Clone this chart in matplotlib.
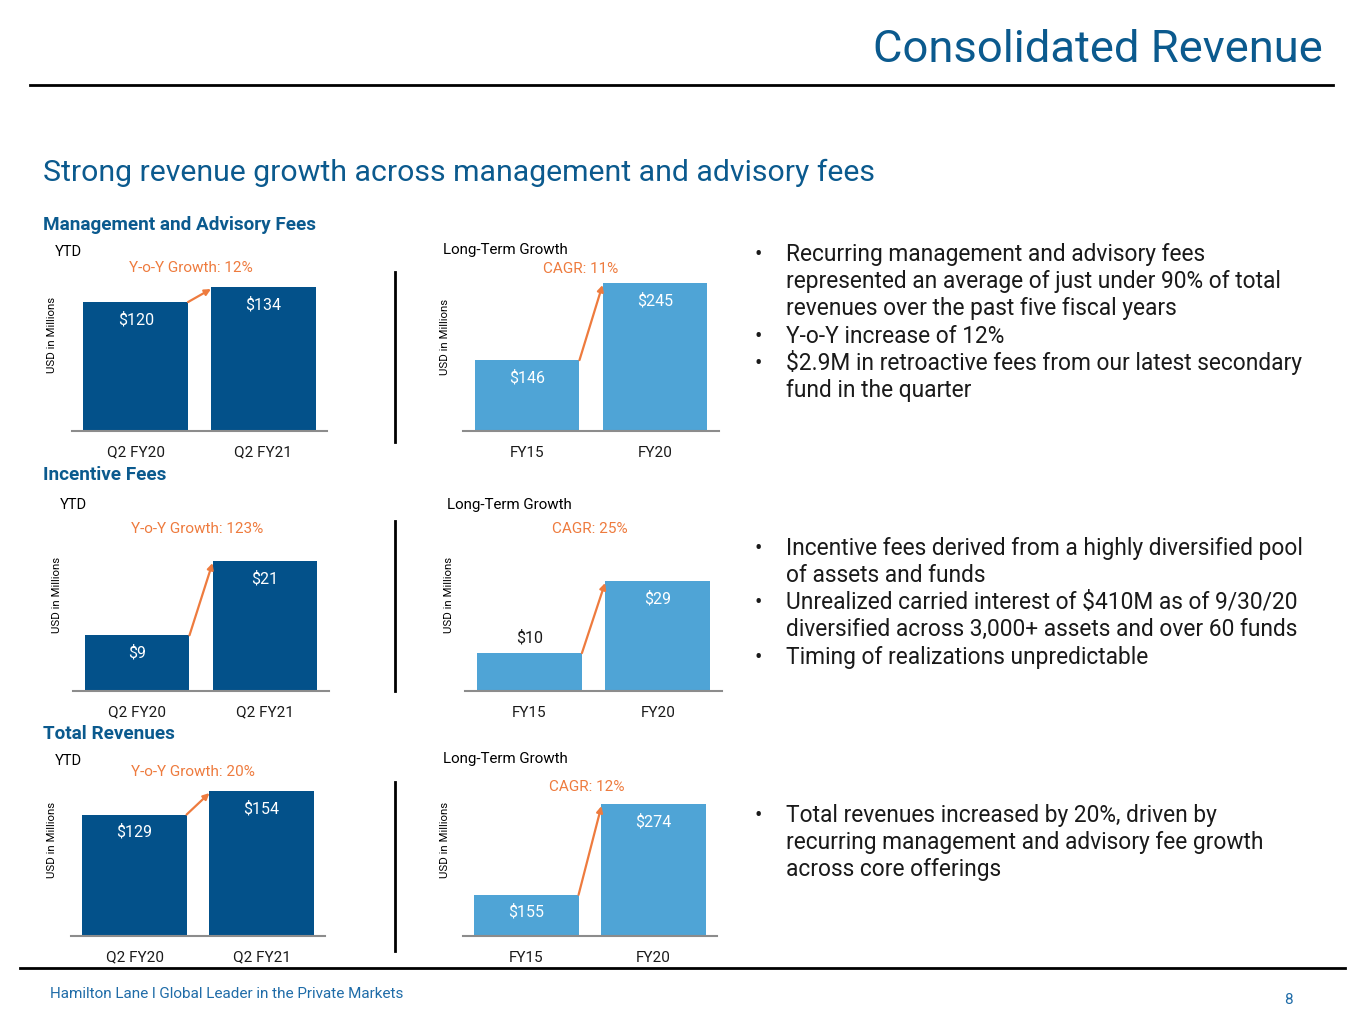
import matplotlib
matplotlib.use("Agg")
import matplotlib.pyplot as plt
from matplotlib.lines import Line2D

plt.rcParams['font.family'] = ['Roboto', 'DejaVu Sans']

W, H = 1365, 1024

# data
ytd_labels = ['Q2 FY20', 'Q2 FY21']
ltg_labels = ['FY15', 'FY20']
mgmt_ytd = [120, 134]
mgmt_ltg = [146, 245]
incent_ytd = [9, 21]
incent_ltg = [10, 29]
total_ytd = [129, 154]
total_ltg = [155, 274]
yoy_growth = ['Y-o-Y Growth: 12%', 'Y-o-Y Growth: 123%', 'Y-o-Y Growth: 20%']
cagr = ['CAGR: 11%', 'CAGR: 25%', 'CAGR: 12%']

DARK = '#03518A'
LIGHT = '#4FA4D6'
ORANGE = '#EE7B3E'
TITLE = '#0B5A8E'
GRID = '#8C8C8C'

fig = plt.figure(figsize=(W / 100, H / 100), dpi=100)


def fx(x):
    return x / W


def fy(y):
    return 1 - y / H


def txt(x, y, s, **kw):
    kw.setdefault('va', 'center')
    fig.text(fx(x), fy(y), s, **kw)


def hline(x0, x1, y, lw=2, color='black'):
    fig.add_artist(Line2D([fx(x0), fx(x1)], [fy(y), fy(y)], lw=lw, color=color))


def vline(x, y0, y1, lw=2, color='black'):
    fig.add_artist(Line2D([fx(x), fx(x)], [fy(y0), fy(y1)], lw=lw, color=color))


def panel(x0, x1, base, ylim, vals, labels, color, inside=(True, True)):
    ax = fig.add_axes([fx(x0), fy(base), fx(x1) - fx(x0), 170 / H])
    ax.bar([0, 1], vals, width=0.82, color=color)
    ax.set_xlim(-0.5, 1.5)
    ax.set_ylim(*ylim)
    for s in ['top', 'right', 'left']:
        ax.spines[s].set_visible(False)
    ax.spines['bottom'].set_color(GRID)
    ax.spines['bottom'].set_linewidth(1.5)
    ax.set_yticks([])
    ax.set_xticks([0, 1])
    ax.set_xticklabels(labels, fontsize=11, color='#1a1a1a')
    ax.tick_params(axis='x', length=0, pad=10.5)
    ax.patch.set_alpha(0)
    for i, v in enumerate(vals):
        if inside[i]:
            ax.annotate('$%d' % v, (i, v), xytext=(0, -12.5), textcoords='offset points',
                        ha='center', va='center', color='white', fontsize=11.5)
        else:
            ax.annotate('$%d' % v, (i, v), xytext=(0, 11), textcoords='offset points',
                        ha='center', va='center', color='#1a1a1a', fontsize=11.5)
    ax.annotate('', xy=(0.59, vals[1] - (ylim[1] - ylim[0]) * 0.012),
                xytext=(0.41, vals[0]),
                arrowprops=dict(arrowstyle='-|>', color=ORANGE, lw=1.6,
                                mutation_scale=9, shrinkA=0, shrinkB=0))
    return ax


# header
txt(1323, 50, 'Consolidated Revenue', ha='right', fontsize=32.7, color=TITLE)
hline(30, 1333, 85, lw=2)
txt(43, 173, 'Strong revenue growth across management and advisory fees',
    fontsize=21.8, color=TITLE)

# row 1
txt(43, 225, 'Management and Advisory Fees', fontsize=13.6, fontweight='bold', color=TITLE)
txt(55, 252, 'YTD', fontsize=10.5)
txt(191, 268, yoy_growth[0], ha='center', fontsize=11, color=ORANGE)
txt(443, 250, 'Long-Term Growth', fontsize=10.9)
txt(581, 269, cagr[0], ha='center', fontsize=11, color=ORANGE)
panel(72, 327, 431, (0, 158.2), mgmt_ytd, ytd_labels, DARK)
panel(463, 719, 431, (55, 273.2), mgmt_ltg, ltg_labels, LIGHT)
vline(395, 272, 442)

# row 2
txt(43, 475, 'Incentive Fees', fontsize=13.6, fontweight='bold', color=TITLE)
txt(60, 505, 'YTD', fontsize=10.5)
txt(197, 529, yoy_growth[1], ha='center', fontsize=11, color=ORANGE)
txt(447, 505, 'Long-Term Growth', fontsize=10.9)
txt(590, 529, cagr[1], ha='center', fontsize=11, color=ORANGE)
panel(73, 329, 691, (0, 27.46), incent_ytd, ytd_labels, DARK)
panel(465, 722, 691, (0, 44.8), incent_ltg, ltg_labels, LIGHT, inside=(False, True))
vline(395, 521, 691)

# row 3
txt(43, 734, 'Total Revenues', fontsize=13.6, fontweight='bold', color=TITLE)
txt(55, 761, 'YTD', fontsize=10.5)
txt(193, 772, yoy_growth[2], ha='center', fontsize=11, color=ORANGE)
txt(443, 759, 'Long-Term Growth', fontsize=10.9)
txt(587, 787, cagr[2], ha='center', fontsize=11, color=ORANGE)
panel(71, 325, 936, (0, 180.6), total_ytd, ytd_labels, DARK)
panel(463, 717, 936, (101, 323.8), total_ltg, ltg_labels, LIGHT)
vline(395, 782, 951)

# y-axis captions
for (x, y) in [(52, 335), (445, 337), (57, 595), (449, 595), (52, 840), (445, 840)]:
    txt(x, y, 'USD in Millions', rotation=90, ha='center', fontsize=8.2)

# bullets (y = text baseline)
bullets = [
    (261, 'Recurring management and advisory fees', True),
    (288, 'represented an average of just under 90% of total', False),
    (315, 'revenues over the past five fiscal years', False),
    (343, 'Y-o-Y increase of 12%', True),
    (370, '$2.9M in retroactive fees from our latest secondary', True),
    (397, 'fund in the quarter', False),
    (555, 'Incentive fees derived from a highly diversified pool', True),
    (582, 'of assets and funds', False),
    (609, 'Unrealized carried interest of $410M as of 9/30/20', True),
    (636, 'diversified across 3,000+ assets and over 60 funds', False),
    (664, 'Timing of realizations unpredictable', True),
    (822, 'Total revenues increased by 20%, driven by', True),
    (849, 'recurring management and advisory fee growth', False),
    (876, 'across core offerings', False),
]
for y, line, first in bullets:
    if first:
        txt(755, y, '•', fontsize=16, color='#1a1a1a', va='baseline')
    txt(786, y, line, fontsize=16.35, color='#1a1a1a', va='baseline')

# footer
hline(20, 1345, 968, lw=2)
txt(50, 994, 'Hamilton Lane l Global Leader in the Private Markets', fontsize=11, color='#1F6CA8')
txt(1288, 1000, '8', ha='center', fontsize=11, color='#1F6CA8')

fig.savefig('out.png', dpi=100)
